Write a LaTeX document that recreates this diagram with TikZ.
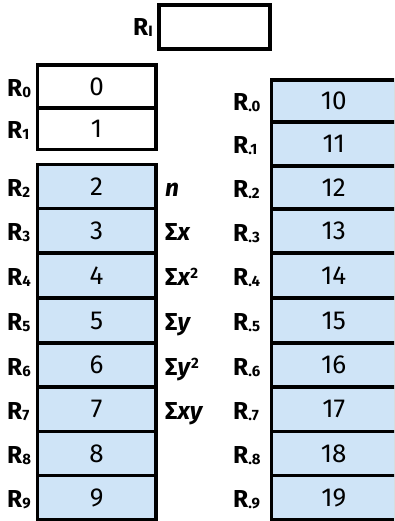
\documentclass[tikz,border=0pt]{standalone}
\usepackage{fontspec}
\setmainfont{Fira Sans}
\definecolor{cellblue}{RGB}{207,228,247}
\newcommand{\sbs}[1]{{\fontsize{15}{15}\selectfont\raisebox{-1pt}{#1}}}
\newcommand{\sps}[1]{{\fontsize{15}{15}\selectfont\raisebox{7pt}{#1}}}
\tikzset{
  cellbox/.style={draw=black, line width=3.8pt, inner sep=0pt, outer sep=0pt,
    minimum width=118.2pt, font=\fontsize{26}{30}\selectfont},
  bluecell/.style={cellbox, fill=cellblue},
  whitecell/.style={cellbox, fill=white},
  reglab/.style={anchor=base west, inner sep=0pt, font=\bfseries\fontsize{24.5}{28}\selectfont},
  sumlab/.style={anchor=base west, inner sep=0pt, font=\bfseries\fontsize{24.5}{28}\selectfont},
}
\begin{document}
\begin{tikzpicture}[x=1pt,y=-1pt]
\useasboundingbox (0,0) rectangle (394,521);
\clip (0,0) rectangle (394,521);
% R_I box
\node[whitecell, minimum width=111pt, minimum height=43.4pt] (RI) at (214.2,27) {};
\node[reglab] (RIlab) at (133,36) {R\sbs{I}};
% R0, R1
\node[whitecell, minimum height=43pt] (L0) at (96.6,86.5) {0};
\node[whitecell, minimum height=41.5pt] (L1) at (96.6,128.75) {1};
\node[reglab] (LR0) at (7,96.5) {R\sbs{0}};
\node[reglab] (LR1) at (7,138.75) {R\sbs{1}};
% left column R2..R9
\foreach \i/\a/\b in {2/164.5/208.5, 3/208.5/253, 4/253/298, 5/298/343,
                      6/343/387, 7/387/431.5, 8/431.5/475.5, 9/475.5/519.5} {
  \pgfmathsetmacro\cy{(\a+\b)/2}
  \pgfmathsetmacro\hh{\b-\a}
  \node[bluecell, minimum height=\hh pt] (L\i) at (96.6,\cy) {\i};
  \node[reglab] (LR\i) at (7,{\cy+10}) {R\sbs{\i}};
}
% right column R.0..R.9
\foreach \i/\a/\b in {0/80/122, 1/122/166, 2/166/209, 3/209/253, 4/253/298,
                      5/298/343, 6/343/387, 7/387/431.5, 8/431.5/475.5, 9/475.5/519.5} {
  \pgfmathsetmacro\cy{(\a+\b)/2}
  \pgfmathsetmacro\hh{\b-\a}
  \node[bluecell, minimum width=124.5pt, minimum height=\hh pt] (Rc\i) at (333.75,\cy) {1\i};
  \node[reglab] (RR\i) at (233,{\cy+10}) {R\sbs{.\i}};
}
% statistics labels
\node[sumlab] (sn)   at (165,196.5)  {\itshape n};
\node[sumlab] (sx)   at (165,240.75) {Σ\textit{x}};
\node[sumlab] (sxx)  at (165,285.5)  {Σ\textit{x}\sps{2}};
\node[sumlab] (sy)   at (165,330.5)  {Σ\textit{y}};
\node[sumlab] (syy)  at (165,375)    {Σ\textit{y}\sps{2}};
\node[sumlab] (sxy)  at (165,419.25) {Σ\textit{xy}};
\end{tikzpicture}
\end{document}
